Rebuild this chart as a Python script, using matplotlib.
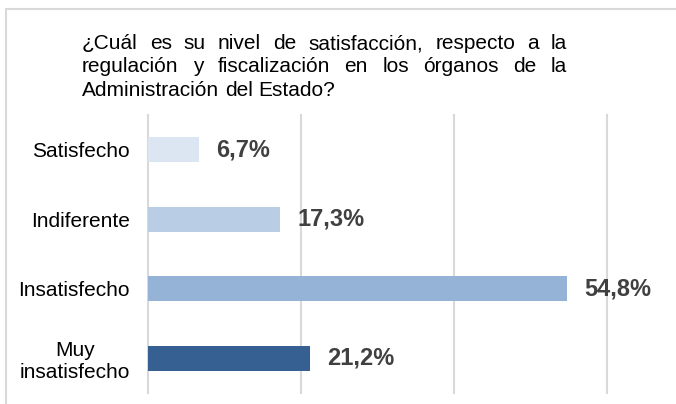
import matplotlib
matplotlib.use('Agg')
import matplotlib.pyplot as plt
from matplotlib.patches import Rectangle

plt.rcParams['font.family'] = ['Liberation Sans', 'DejaVu Sans']

# data
categories = ['Satisfecho', 'Indiferente', 'Insatisfecho', 'Muy\ninsatisfecho']
values = [6.7, 17.3, 54.8, 21.2]
colors = ['#dce6f2', '#b9cde5', '#95b3d7', '#376092']
title_lines = [
    '¿Cuál es su nivel de satisfacción, respecto a la',
    'regulación y fiscalización en los órganos de la',
    'Administración del Estado?',
]

W, H = 676, 404
fig = plt.figure(figsize=(W / 100, H / 100), dpi=100)

# outer frame (cut off at right and bottom like the picture)
fig.add_artist(Rectangle((6 / W, -0.2), 2, (H - 9) / H + 0.2,
                         transform=fig.transFigure, fill=False,
                         edgecolor='#d9d9d9', lw=1.5))

ax = fig.add_axes([148 / W, 1 - 393 / H, (607 - 148) / W, (393 - 115) / H])
ypos = list(range(len(categories)))
ax.barh(ypos, values, height=0.36, color=colors, zorder=3)
ax.set_xlim(0, 60)
ax.set_ylim(3.5, -0.5)
ax.set_xticks([0, 20, 40, 60])
ax.grid(axis='x', color='#d9d9d9', lw=1.5, zorder=0)
for l in ax.get_xgridlines():
    l.set_clip_on(False)
ax.tick_params(axis='x', length=0, labelbottom=False)
ax.tick_params(axis='y', length=0, pad=13, labelsize=15)
ax.set_yticks(ypos)
ax.set_yticklabels(categories)
for t in ax.get_yticklabels():
    t.set_multialignment('center')
    t.set_linespacing(1.2)
for s in ax.spines.values():
    s.set_visible(False)

for i, v in enumerate(values):
    lab = f'{v:.1f}%'.replace('.', ',')
    ax.annotate(lab, (v, i), xytext=(12, 0), textcoords='offset points',
                va='center', ha='left', fontsize=17, fontweight='bold',
                color='#404040')

# justified title
renderer = fig.canvas.get_renderer()
x0, x1 = 82, 567
baselines = [49, 72.5, 96]
fs = 15
for k, line in enumerate(title_lines):
    words = line.split(' ')
    texts = [fig.text(0, 1 - baselines[k] / H, w, fontsize=fs,
                      va='baseline', ha='left', color='#000000')
             for w in words]
    widths = [t.get_window_extent(renderer).width for t in texts]
    if k < len(title_lines) - 1:
        gap = (x1 - x0 - sum(widths)) / (len(words) - 1)
    else:
        gap = 0.278 * fs * 100 / 72
    x = x0
    for t, w in zip(texts, widths):
        t.set_x(x / W)
        x += w + gap

fig.savefig('out.png', dpi=100)
